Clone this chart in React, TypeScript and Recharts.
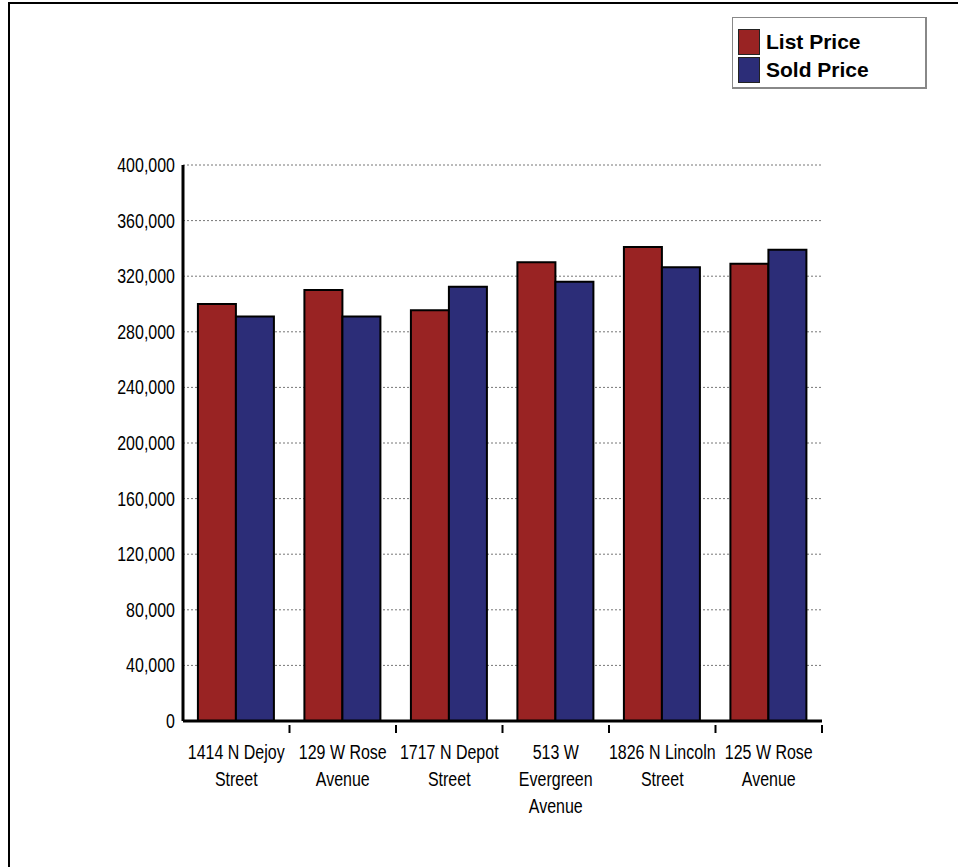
import { BarChart, Bar, XAxis, YAxis, CartesianGrid } from 'recharts';

const categories = [
  '1414 N Dejoy Street',
  '129 W Rose Avenue',
  '1717 N Depot Street',
  '513 W Evergreen Avenue',
  '1826 N Lincoln Street',
  '125 W Rose Avenue',
];
const listPrice = [300000, 310000, 295500, 330000, 341000, 329000];
const soldPrice = [291000, 291000, 312500, 316000, 326500, 339000];
const yTicks = [0, 40000, 80000, 120000, 160000, 200000, 240000, 280000, 320000, 360000, 400000];
const seriesNames = ['List Price', 'Sold Price'];

const RED = '#992323';
const BLUE = '#2c2d78';
const FONT = '"Liberation Sans", Arial, sans-serif';
const NARROW = 0.82; // squeeze text to look like a narrow face

const data = categories.map((name, i) => ({ name, list: listPrice[i], sold: soldPrice[i] }));

// split a label into lines of at most 14 chars
function wrap(label: string, max = 14) {
  const lines: string[] = [];
  let cur = '';
  for (const w of label.split(' ')) {
    const next = cur ? cur + ' ' + w : w;
    if (next.length > max && cur) {
      lines.push(cur);
      cur = w;
    } else cur = next;
  }
  if (cur) lines.push(cur);
  return lines;
}

const BAND = (822 - 183) / categories.length;

function CategoryTick({ x, y, payload }: any) {
  const lines = wrap(payload.value);
  return (
    <g>
      <line x1={x + BAND / 2} x2={x + BAND / 2} y1={y - 4} y2={y + 4} stroke="#000" strokeWidth={2} />
      <g transform={`translate(${x},${y + 30}) scale(${NARROW},1)`}>
        <text x={0} y={0} textAnchor="middle" fontFamily={FONT} fontSize={19.5} fill="#000">
          {lines.map((l, i) => (
            <tspan key={i} x={0} dy={i === 0 ? 0 : 27}>
              {l}
            </tspan>
          ))}
        </text>
      </g>
    </g>
  );
}

function ValueTick({ x, y, payload }: any) {
  return (
    <g transform={`translate(${x},${y}) scale(${NARROW},1)`}>
      <text x={0} y={0} dy={7} textAnchor="end" fontFamily={FONT} fontSize={19.5} fill="#000">
        {payload.value.toLocaleString('en-US')}
      </text>
    </g>
  );
}

function LegendBox() {
  const colors = [RED, BLUE];
  return (
    <div
      style={{
        position: 'absolute',
        left: 732,
        top: 17,
        width: 195,
        height: 72,
        border: '1px solid #888',
        borderRightWidth: 2,
        borderBottomWidth: 2,
        background: '#fff',
        boxSizing: 'border-box',
        padding: '10px 0 0 5px',
        fontFamily: FONT,
        fontWeight: 'bold',
        fontSize: 21,
        color: '#000',
      }}
    >
      {seriesNames.map((n, i) => (
        <div key={n} style={{ display: 'flex', alignItems: 'center', height: 28 }}>
          <span
            style={{
              display: 'inline-block',
              width: 20,
              height: 24,
              background: colors[i],
              border: '1px solid #222',
              marginRight: 6,
            }}
          />
          {n}
        </div>
      ))}
    </div>
  );
}

export default function App() {
  return (
    <div style={{ position: 'absolute', left: 0, top: 0, width: 958, height: 867, background: '#fff' }}>
      <div style={{ position: 'absolute', left: 8, top: 2, width: 950, height: 2, background: '#000' }} />
      <div style={{ position: 'absolute', left: 8, top: 2, width: 2, height: 865, background: '#000' }} />
      <BarChart
        width={958}
        height={867}
        data={data}
        margin={{ top: 165, right: 136, bottom: 0, left: 0 }}
        barCategoryGap="14%"
        barGap={0}
      >
        <CartesianGrid vertical={false} stroke="#777" strokeDasharray="2 2" />
        <XAxis
          dataKey="name"
          interval={0}
          tickLine={false}
          axisLine={{ stroke: '#000', strokeWidth: 3 }}
          tick={<CategoryTick />}
          height={146}
        />
        <YAxis
          width={183}
          domain={[0, 400000]}
          ticks={yTicks}
          interval={0}
          tickLine={false}
          axisLine={{ stroke: '#000', strokeWidth: 3 }}
          tick={<ValueTick />}
          tickMargin={2}
        />
        <Bar dataKey="list" name={seriesNames[0]} fill={RED} stroke="#000" strokeWidth={2} isAnimationActive={false} />
        <Bar dataKey="sold" name={seriesNames[1]} fill={BLUE} stroke="#000" strokeWidth={2} isAnimationActive={false} />
      </BarChart>
      <LegendBox />
    </div>
  );
}
